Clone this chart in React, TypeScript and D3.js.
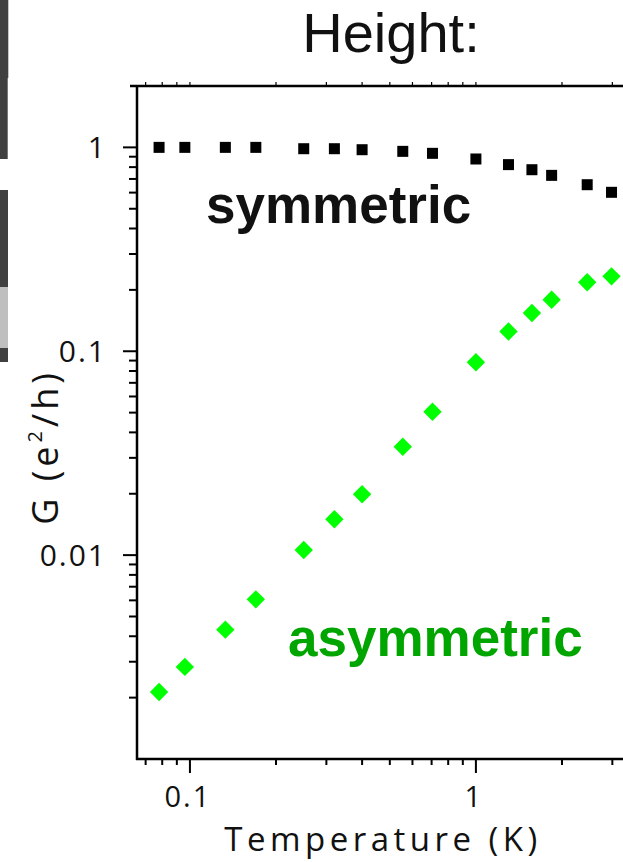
import { useEffect, useRef } from 'react';
import * as d3 from 'd3';

// temperature (K) for each measured point
const temps = [0.078, 0.096, 0.133, 0.17, 0.25, 0.32, 0.4, 0.555, 0.705, 1.0, 1.3, 1.57, 1.84, 2.45, 2.98];
// conductance G in units of e^2/h
const symmetric = [1.0, 1.0, 1.0, 1.0, 0.985, 0.985, 0.974, 0.956, 0.935, 0.877, 0.823, 0.777, 0.729, 0.656, 0.602];
const asymmetric = [0.00213, 0.00283, 0.00431, 0.00607, 0.0106, 0.015, 0.0199, 0.034, 0.0505, 0.0883, 0.125, 0.154, 0.179, 0.218, 0.233];

const xMajor = [0.1, 1];
const yMajor = [1, 0.1, 0.01];
const xTickLabels = ['0.1', '1'];
const yTickLabels = ['1', '0.1', '0.01'];

const W = 623;
const H = 862;

function App() {
  const svgRef = useRef<SVGSVGElement>(null);

  useEffect(() => {
    const svg = d3.select(svgRef.current);
    svg.selectAll('*').remove();

    const left = 137, top = 86, bottom = 759, right = 760;

    const x = d3.scaleLog().domain([0.0653, 9.85]).range([left, right]);
    const y = d3.scaleLog().domain([0.001, 2.0]).range([bottom, top]);

    // strips of the neighbouring panel at the left edge
    const strips = [
      { y0: 0, y1: 78, w: 8.3, c: '#404040' },
      { y0: 78, y1: 159, w: 7.7, c: '#404040' },
      { y0: 190, y1: 287, w: 8, c: '#404040' },
      { y0: 287, y1: 348, w: 8, c: '#bfbfbf' },
      { y0: 348, y1: 362, w: 8, c: '#404040' },
    ];
    svg.selectAll('rect.strip').data(strips).enter().append('rect')
      .attr('class', 'strip')
      .attr('x', 0).attr('y', (d) => d.y0)
      .attr('width', (d) => d.w).attr('height', (d) => d.y1 - d.y0)
      .attr('fill', (d) => d.c);

    // title
    svg.append('text')
      .attr('x', 391).attr('y', 52)
      .attr('text-anchor', 'middle')
      .style('font-family', '"Liberation Sans", Arial, sans-serif')
      .style('font-size', '56px')
      .style('fill', '#111')
      .text('Height:');

    // minor tick values
    const minors = (lo: number, hi: number) => {
      const out: number[] = [];
      for (let e = -3; e <= 1; e++) {
        for (let k = 2; k <= 9; k++) {
          const v = k * Math.pow(10, e);
          if (v > lo * 1.001 && v < hi * 0.999) out.push(v);
        }
      }
      return out;
    };
    const xMinor = minors(x.domain()[0], x.domain()[1]);
    const yMinor = minors(y.domain()[0], y.domain()[1]);

    const axisStroke = '#000';

    // top frame line with small ticks
    svg.append('line')
      .attr('x1', 130).attr('x2', W).attr('y1', top).attr('y2', top)
      .attr('stroke', axisStroke).attr('stroke-width', 2.5);
    svg.selectAll('line.topTick').data(xMinor.concat(xMajor)).enter().append('line')
      .attr('class', 'topTick')
      .attr('x1', (d) => x(d)).attr('x2', (d) => x(d))
      .attr('y1', top).attr('y2', top - 4)
      .attr('stroke', axisStroke).attr('stroke-width', 1.2);

    // left axis
    svg.append('line')
      .attr('x1', left).attr('x2', left).attr('y1', top - 1).attr('y2', bottom + 1)
      .attr('stroke', axisStroke).attr('stroke-width', 2.5);
    svg.selectAll('line.yMinor').data(yMinor).enter().append('line')
      .attr('class', 'yMinor')
      .attr('x1', left - 8).attr('x2', left)
      .attr('y1', (d) => y(d)).attr('y2', (d) => y(d))
      .attr('stroke', axisStroke).attr('stroke-width', 2);
    svg.selectAll('line.yMajor').data(yMajor).enter().append('line')
      .attr('class', 'yMajor')
      .attr('x1', left - 14).attr('x2', left)
      .attr('y1', (d) => y(d)).attr('y2', (d) => y(d))
      .attr('stroke', axisStroke).attr('stroke-width', 2);
    svg.selectAll('text.yLab').data(yMajor).enter().append('text')
      .attr('class', 'yLab')
      .attr('x', 107).attr('y', (d) => y(d))
      .attr('dy', '0.36em')
      .attr('text-anchor', 'end')
      .style('font-family', '"Open Sans", sans-serif')
      .style('font-size', '30px')
      .style('letter-spacing', '2px')
      .style('fill', '#111')
      .text((d, i) => yTickLabels[i]);

    // bottom axis
    svg.append('line')
      .attr('x1', left - 1).attr('x2', W).attr('y1', bottom).attr('y2', bottom)
      .attr('stroke', axisStroke).attr('stroke-width', 2.5);
    svg.selectAll('line.xMinor').data(xMinor).enter().append('line')
      .attr('class', 'xMinor')
      .attr('x1', (d) => x(d)).attr('x2', (d) => x(d))
      .attr('y1', bottom).attr('y2', bottom + 6)
      .attr('stroke', axisStroke).attr('stroke-width', 2);
    svg.selectAll('line.xMajor').data(xMajor).enter().append('line')
      .attr('class', 'xMajor')
      .attr('x1', (d) => x(d)).attr('x2', (d) => x(d))
      .attr('y1', bottom).attr('y2', bottom + 14)
      .attr('stroke', axisStroke).attr('stroke-width', 2);
    svg.selectAll('text.xLab').data(xMajor).enter().append('text')
      .attr('class', 'xLab')
      .attr('x', (d) => x(d) - 2).attr('y', 807)
      .attr('text-anchor', 'middle')
      .style('font-family', '"Open Sans", sans-serif')
      .style('font-size', '29px')
      .style('letter-spacing', '2px')
      .style('fill', '#111')
      .text((d, i) => xTickLabels[i]);

    // axis titles
    svg.append('text')
      .attr('x', 383).attr('y', 851)
      .attr('text-anchor', 'middle')
      .style('font-family', '"Open Sans", sans-serif')
      .style('font-size', '33px')
      .style('letter-spacing', '4.5px')
      .style('fill', '#111')
      .text('Temperature (K)');

    const yTitle = svg.append('text')
      .attr('transform', 'translate(58,447) rotate(-90)')
      .attr('text-anchor', 'middle')
      .style('font-family', '"Open Sans", sans-serif')
      .style('font-size', '36px')
      .style('letter-spacing', '4px')
      .style('fill', '#111');
    yTitle.append('tspan').text('G (e');
    yTitle.append('tspan').attr('dy', -16).style('font-size', '20px').text('2');
    yTitle.append('tspan').attr('dy', 16).text('/h)');

    // symmetric: black squares
    const s = 11;
    svg.selectAll('rect.sym').data(temps).enter().append('rect')
      .attr('class', 'sym')
      .attr('x', (d) => x(d) - s / 2)
      .attr('y', (d, i) => y(symmetric[i]) - s / 2)
      .attr('width', s).attr('height', s)
      .attr('fill', '#000');

    // asymmetric: green diamonds
    const diamond = d3.symbol().type(d3.symbolSquare).size(13 * 13);
    svg.selectAll('path.asym').data(temps).enter().append('path')
      .attr('class', 'asym')
      .attr('d', diamond)
      .attr('transform', (d, i) => `translate(${x(d)},${y(asymmetric[i])}) rotate(45)`)
      .attr('fill', '#00ff00');

    // series labels
    svg.append('text')
      .attr('x', 206).attr('y', 223)
      .style('font-family', '"Liberation Sans", Arial, sans-serif')
      .style('font-weight', 'bold')
      .style('font-size', '53px')
      .style('fill', '#111')
      .text('symmetric');

    svg.append('text')
      .attr('x', 288).attr('y', 656)
      .style('font-family', '"Liberation Sans", Arial, sans-serif')
      .style('font-weight', 'bold')
      .style('font-size', '53px')
      .style('fill', '#00a500')
      .text('asymmetric');
  }, []);

  return (
    <svg
      ref={svgRef}
      width={W}
      height={H}
      style={{ position: 'absolute', left: 0, top: 0, background: '#fff' }}
    />
  );
}

export default App;
